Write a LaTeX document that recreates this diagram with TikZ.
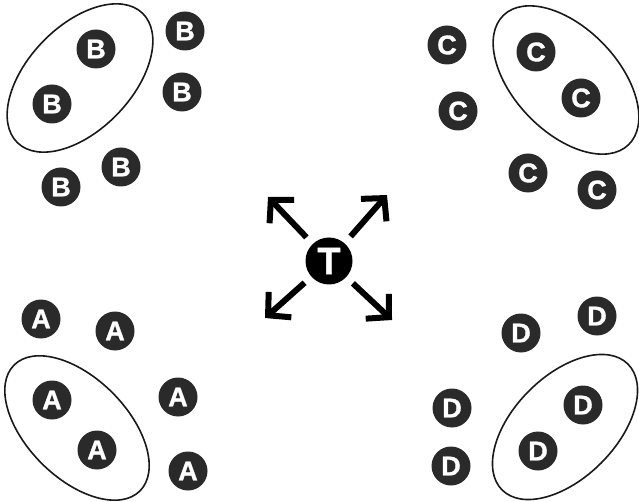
\documentclass[tikz,border=0pt]{standalone}
\usepackage{fontspec}
\newfontfamily\lett[FakeBold=1.2]{Liberation Sans}
\usetikzlibrary{arrows.meta}
\definecolor{tokfill}{HTML}{2A2A2A}
\begin{document}
\begin{tikzpicture}[x=1pt,y=1pt,
  tok/.style={circle, fill=tokfill, minimum size=39pt, inner sep=0pt, text=white,
    font=\lett\bfseries\fontsize{27}{27}\selectfont},
  center/.style={circle, fill=black, minimum size=47pt, inner sep=0pt, text=white,
    font=\lett\bfseries\fontsize{38}{38}\selectfont},
  group/.style={line width=1.6pt, draw=black!90},
  arr/.style={line width=6pt, shorten <=9pt, -{Straight Barb[length=16pt,width=34pt]}}]
\useasboundingbox (0,0) rectangle (639,-502);
% ellipses
\draw[group, rotate around={46:(80,-78)}] (80,-78) ellipse [x radius=90, y radius=52];
\draw[group, rotate around={-46:(566,-80)}] (566,-80) ellipse [x radius=90, y radius=52];
\draw[group, rotate around={-45:(77,-428)}] (77,-428) ellipse [x radius=89, y radius=50];
\draw[group, rotate around={45:(565,-427)}] (565,-427) ellipse [x radius=89, y radius=51];
% B
\node[tok] (b1) at (96,-49) {B};
\node[tok] (b2) at (52,-104) {B};
\node[tok] (b3) at (185,-31) {B};
\node[tok] (b4) at (182,-92) {B};
\node[tok] (b5) at (121,-167) {B};
\node[tok] (b6) at (61,-187) {B};
% C
\node[tok] (c1) at (536,-52) {C};
\node[tok] (c2) at (581,-98) {C};
\node[tok] (c3) at (447,-45) {C};
\node[tok] (c4) at (458,-111) {C};
\node[tok] (c5) at (528,-173) {C};
\node[tok] (c6) at (597,-190) {C};
% A
\node[tok] (a1) at (41,-319) {A};
\node[tok] (a2) at (115,-331) {A};
\node[tok] (a3) at (52,-400) {A};
\node[tok] (a4) at (97,-450) {A};
\node[tok] (a5) at (178,-397) {A};
\node[tok] (a6) at (188,-471) {A};
% D
\node[tok] (d1) at (597,-316) {D};
\node[tok] (d2) at (521,-333) {D};
\node[tok] (d3) at (452,-408) {D};
\node[tok] (d4) at (451,-466) {D};
\node[tok] (d5) at (583,-405) {D};
\node[tok] (d6) at (538,-451) {D};
% T and arrows
\node[center] (T) at (329,-261) {T};
\coordinate (nw) at (268,-197);
\coordinate (ne) at (387,-195);
\coordinate (sw) at (265,-318);
\coordinate (se) at (392,-320);
\draw[arr] (T) -- (nw);
\draw[arr] (T) -- (ne);
\draw[arr] (T) -- (sw);
\draw[arr] (T) -- (se);
\end{tikzpicture}
\end{document}
